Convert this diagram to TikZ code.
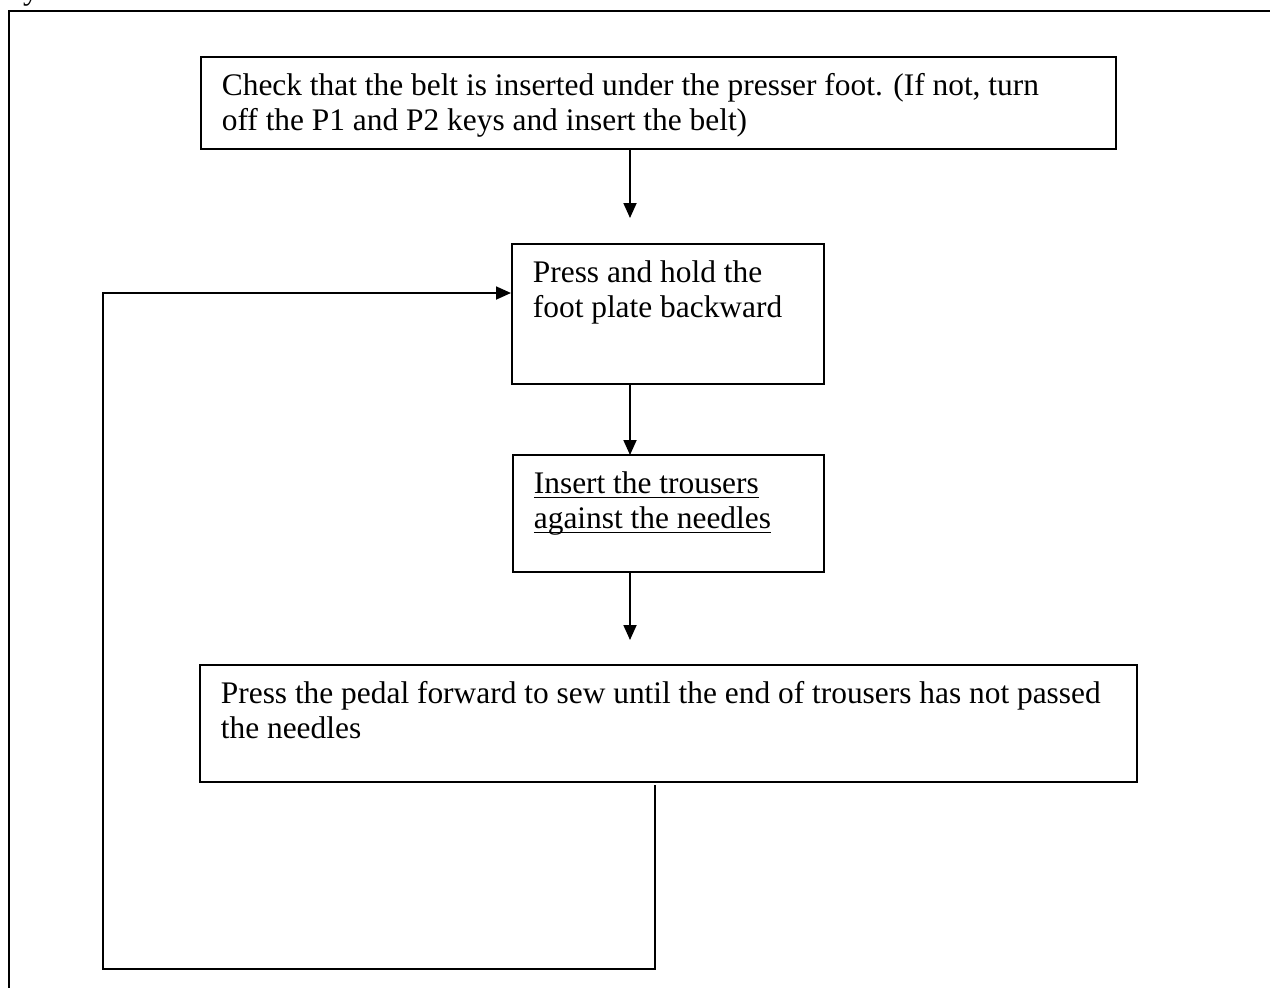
\documentclass[tikz,border=0pt]{standalone}
\usepackage{fontspec}
\setmainfont{Liberation Serif}
\usepackage{tikz}
\usetikzlibrary{arrows.meta}
\newcommand{\boxtext}[3]{\parbox[c][#2][t]{#1}{\vspace*{7.25pt}\leftskip=10.5pt\strut#3}}
\newcommand{\undr}[1]{\setbox0\hbox{#1}\rlap{\rule[-2.2pt]{\wd0}{0.8pt}}\box0}

\begin{document}
\begin{tikzpicture}[x=0.5pt,y=-0.5pt,font=\fontsize{15.7}{17.5}\selectfont,
  line width=0.9pt,
  stepbox/.style={draw,anchor=north west,inner sep=0pt},
  flow/.style={-{Triangle[length=7.5pt,width=6.5pt]}}]
  \useasboundingbox (0,0) rectangle (1270,987);
  \clip (0,0) rectangle (1270,987);
  \node[anchor=base,inner sep=0pt] (cut) at (31,-1) {y};
  \node[stepbox,minimum width=650pt,minimum height=510pt] (frame) at (8,10) {};
  % steps
  \node[stepbox] (check) at (200,56) {\boxtext{457.5pt}{46pt}{Check that the belt is inserted under the presser foot. (If not, turn\\off the P1 and P2 keys and insert the belt)}};
  \node[stepbox] (hold) at (511,243) {\boxtext{156pt}{70pt}{Press and hold the\\foot plate backward}};
  \node[stepbox] (insert) at (512,454) {\boxtext{155.5pt}{58.5pt}{\undr{Insert the trousers}\\\undr{against the needles}}};
  \node[stepbox] (pedal) at (199,664) {\boxtext{468.5pt}{58.5pt}{Press the pedal forward to sew until the end of trousers has not passed\\the needles}};
  % arrow ends
  \coordinate (t1) at (630,218);
  \coordinate (t2) at (630,455);
  \coordinate (t3) at (630,640);
  \coordinate (back) at (655,785);
  \coordinate (turn) at (103,293);
  \draw[flow] (check.south -| t1) -- (t1);
  \draw[flow] (hold.south -| t2) -- (t2);
  \draw[flow] (insert.south -| t3) -- (t3);
  \draw[flow] (back) -- (655,969) -| (turn) -- (turn -| hold.west);
\end{tikzpicture}
\end{document}
